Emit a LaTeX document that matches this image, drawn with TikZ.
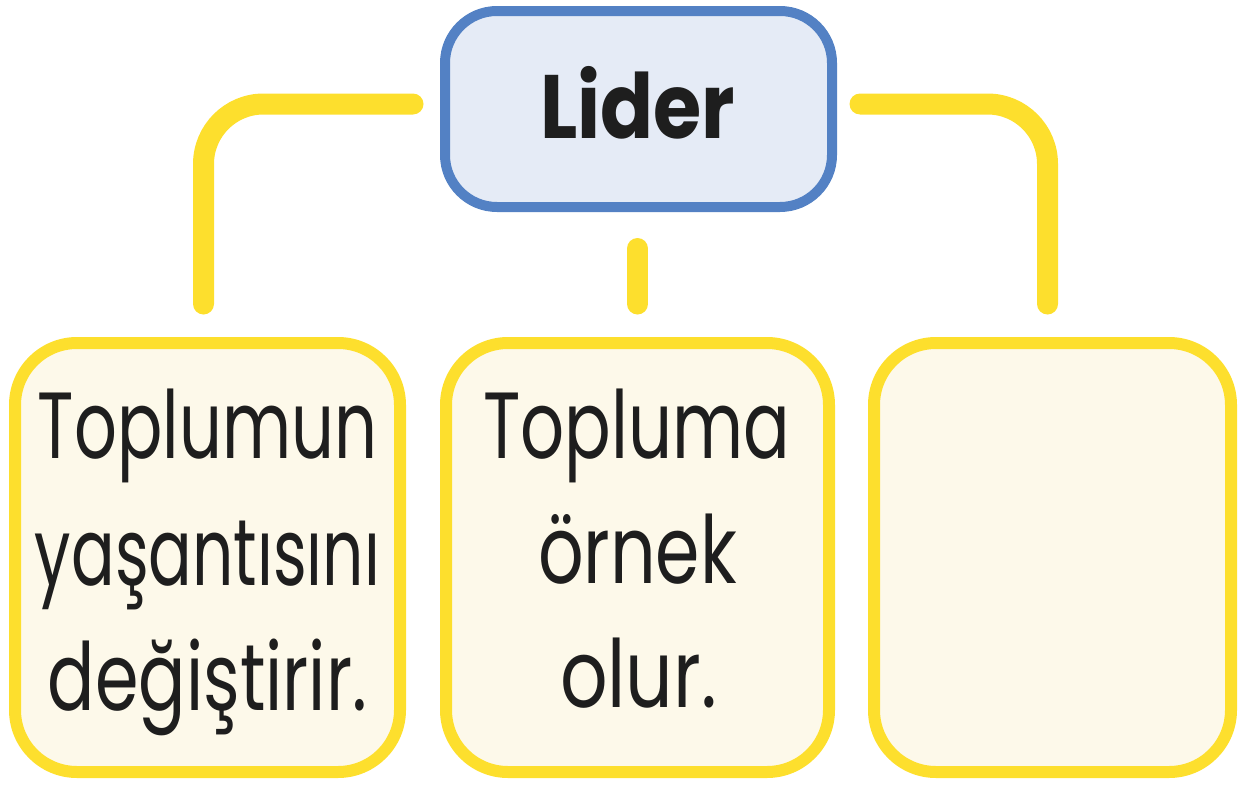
\documentclass[tikz,border=0pt]{standalone}
\usepackage{fontspec}
\usepackage{graphicx}
\setmainfont{Poppins}
\definecolor{ylw}{HTML}{FDDF2D}
\definecolor{blu}{HTML}{5381C4}
\definecolor{topfill}{HTML}{E5EBF6}
\definecolor{boxfill}{HTML}{FDF9EA}
\definecolor{ink}{HTML}{1E1E1E}
\newcommand{\fitw}[2]{\resizebox{#1}{\height}{#2}}
\tikzset{
  topbox/.style={draw=blu, fill=topfill, line width=10pt, rounded corners=52pt,
    minimum width=387pt, minimum height=196pt, inner sep=0pt},
  ansbox/.style={draw=ylw, fill=boxfill, line width=12pt, rounded corners=62pt,
    minimum height=429pt, inner sep=0pt},
  conn/.style={draw=ylw, line width=21pt, line cap=round, rounded corners=60pt},
  txt/.style={inner sep=0pt, anchor=base, text=ink, font=\fontsize{94}{94}\selectfont},
  headtxt/.style={inner sep=0pt, anchor=base, text=ink, font=\fontsize{90}{90}\selectfont\bfseries}
}
\begin{document}
\begin{tikzpicture}[x=1pt,y=-1pt]
\useasboundingbox (0,0) rectangle (1253,787);
\node[topbox] (top) at (638.5,109) {};
\node[ansbox, minimum width=385pt] (b1) at (207.5,557.5) {};
\node[ansbox, minimum width=383pt] (b2) at (637.5,557.5) {};
\node[ansbox, minimum width=357pt] (b3) at (1052.5,557.5) {};
\draw[conn] ([xshift=-27pt,yshift=5pt]top.west) -| ([xshift=-4pt,yshift=33pt]b1.north);
\draw[conn] ([xshift=23pt,yshift=5pt]top.east) -| ([xshift=-5pt,yshift=33pt]b3.north);
\draw[conn] ([xshift=-1pt,yshift=-36.5pt]top.south) -- ([yshift=33pt]b2.north);
\node[headtxt] (lider) at (637.5,138) {\fitw{195pt}{Lider}};
\node[txt] (t1a) at (207.5,458) {\fitw{339pt}{Toplumun}};
\node[txt] (t1b) at (207.5,585) {\fitw{345pt}{yaşantısını}};
\node[txt] (t1c) at (207.5,710) {\fitw{319pt}{değiştirir.}};
\node[txt] (t2a) at (636.5,458) {\fitw{307pt}{Topluma}};
\node[txt] (t2b) at (637.5,583) {\fitw{199pt}{örnek}};
\node[txt] (t2c) at (638.5,707) {\fitw{157pt}{olur.}};
\end{tikzpicture}
\end{document}
